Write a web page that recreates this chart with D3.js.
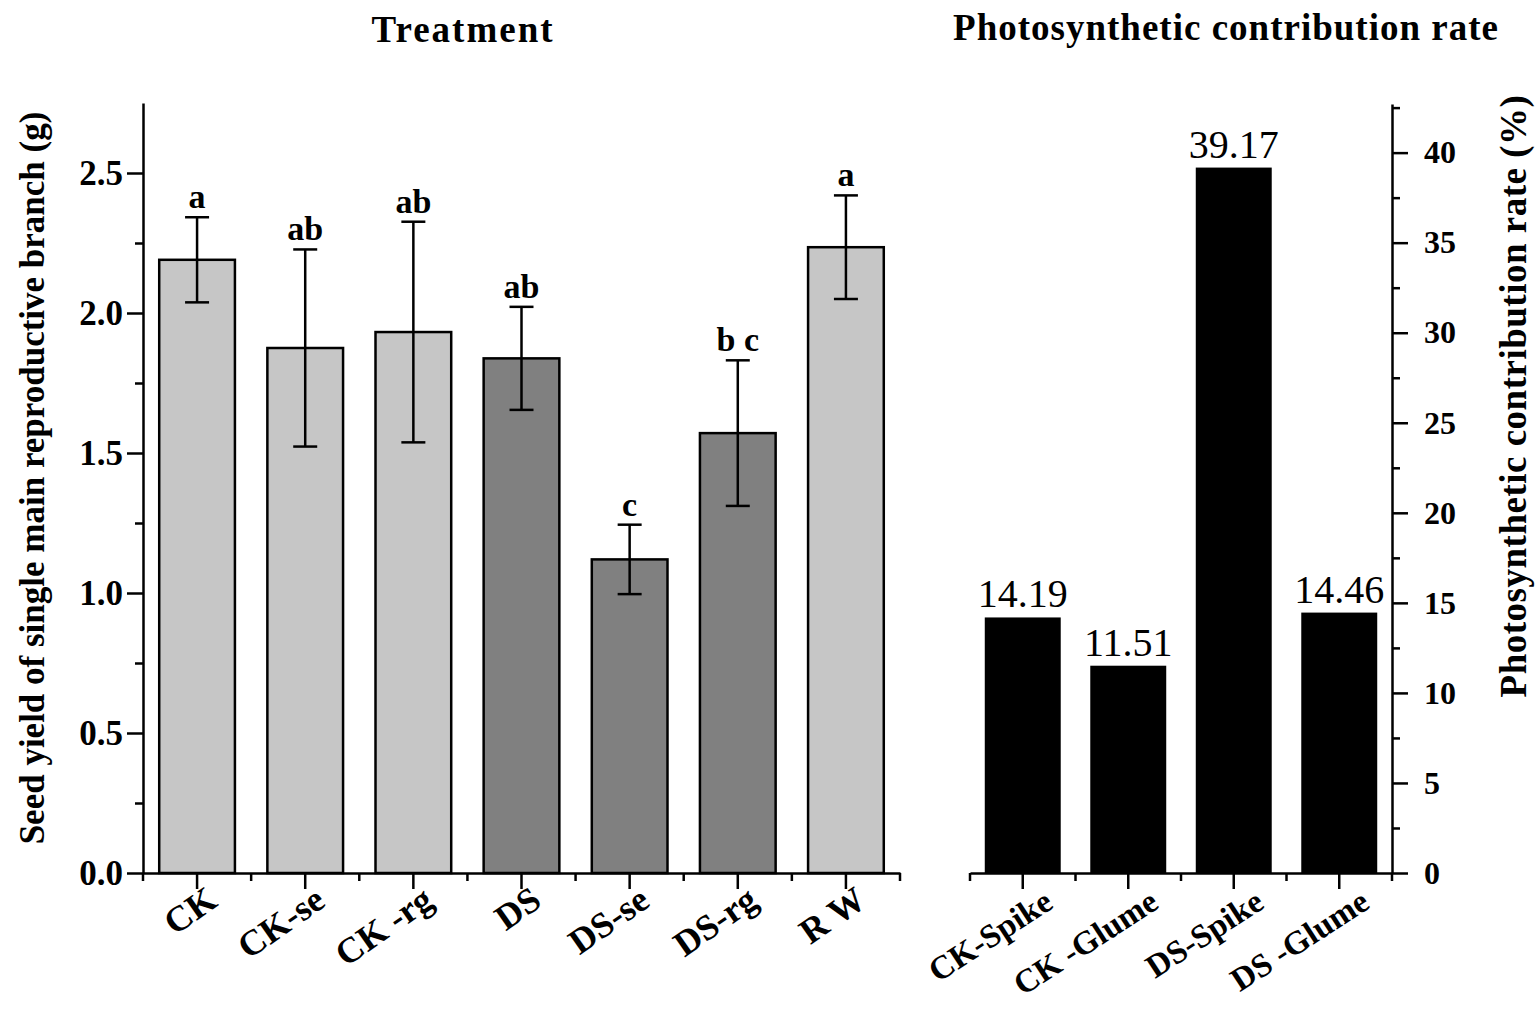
<!DOCTYPE html>
<html>
<head>
<meta charset="utf-8">
<script src="https://cdn.jsdelivr.net/npm/d3@7"></script>
<style>
  body { margin: 0; background: #fff; }
  svg text { font-family: "Liberation Serif", "Times New Roman", serif; fill: #000; }
  .axis path, .axis line { stroke: #000; stroke-width: 2.5px; }
</style>
</head>
<body>
<div id="chart"></div>
<script>
// left panel: seed yield per treatment
const treatments = ["CK", "CK-se", "CK -rg", "DS", "DS-se", "DS-rg", "R W"];
const seedYield = [2.19, 1.875, 1.932, 1.838, 1.12, 1.571, 2.235];
const seedErr = [0.152, 0.352, 0.394, 0.184, 0.124, 0.26, 0.185];
const sigLetters = ["a", "ab", "ab", "ab", "c", "b c", "a"];
const groups = ["CK", "CK", "CK", "DS", "DS", "DS", "RW"];
const yieldTicks = [0, 0.5, 1.0, 1.5, 2.0, 2.5];

// right panel: photosynthetic contribution rate
const organs = ["CK-Spike", "CK -Glume", "DS-Spike", "DS -Glume"];
const contribution = [14.19, 11.51, 39.17, 14.46];
const rateTicks = [0, 5, 10, 15, 20, 25, 30, 35, 40];

const width = 1535, height = 1027;
const base = 873;

const svg = d3.select("#chart")
    .append("svg")
    .attr("width", width)
    .attr("height", height);

const fill = d3.scaleOrdinal()
    .domain(["CK", "DS", "RW"])
    .range(["#c6c6c6", "#808080", "#c6c6c6"]);

// ---------- left chart ----------
const xL = d3.scaleBand()
    .domain(treatments)
    .range([143, 900])
    .paddingInner(0.3)
    .paddingOuter(0.15);

const yL = d3.scaleLinear()
    .domain([0, 2.75])
    .range([base, 103]);

const left = svg.append("g");

left.selectAll("rect.bar")
    .data(treatments)
    .join("rect")
    .classed("bar", true)
    .attr("x", d => xL(d))
    .attr("y", (d, i) => yL(seedYield[i]))
    .attr("width", xL.bandwidth())
    .attr("height", (d, i) => base - yL(seedYield[i]))
    .attr("fill", (d, i) => fill(groups[i]))
    .attr("stroke", "#000")
    .attr("stroke-width", 2.5);

// error bars
const cx = d => xL(d) + xL.bandwidth() / 2;
const err = left.selectAll("g.err")
    .data(treatments)
    .join("g")
    .classed("err", true);
err.append("line")
    .attr("x1", cx)
    .attr("x2", cx)
    .attr("y1", (d, i) => yL(seedYield[i] + seedErr[i]))
    .attr("y2", (d, i) => yL(seedYield[i] - seedErr[i]));
err.append("line")
    .attr("x1", d => cx(d) - 12)
    .attr("x2", d => cx(d) + 12)
    .attr("y1", (d, i) => yL(seedYield[i] + seedErr[i]))
    .attr("y2", (d, i) => yL(seedYield[i] + seedErr[i]));
err.append("line")
    .attr("x1", d => cx(d) - 12)
    .attr("x2", d => cx(d) + 12)
    .attr("y1", (d, i) => yL(seedYield[i] - seedErr[i]))
    .attr("y2", (d, i) => yL(seedYield[i] - seedErr[i]));
err.selectAll("line")
    .attr("stroke", "#000")
    .attr("stroke-width", 2.5);

left.selectAll("text.sig")
    .data(treatments)
    .join("text")
    .classed("sig", true)
    .attr("x", cx)
    .attr("y", (d, i) => yL(seedYield[i] + seedErr[i]) - 9)
    .attr("text-anchor", "middle")
    .style("font-size", "34px")
    .style("font-weight", "bold")
    .text((d, i) => sigLetters[i]);

// y axis with minor ticks
left.append("g")
    .classed("axis", true)
    .attr("transform", "translate(143,0)")
    .call(d3.axisLeft(yL).tickValues(d3.range(0.25, 2.75, 0.5)).tickSize(8).tickFormat(""))
    .call(g => g.select(".domain").remove());
left.append("g")
    .classed("axis", true)
    .attr("transform", "translate(143,0)")
    .call(d3.axisLeft(yL).tickValues(yieldTicks).tickSize(16).tickPadding(4).tickFormat(d3.format(".1f")).tickSizeOuter(0))
    .call(g => g.selectAll("text").style("font-size", "35px").style("font-weight", "bold"));

// x axis, major ticks at bars, minor ticks between them
left.append("g")
    .classed("axis", true)
    .attr("transform", "translate(0," + base + ")")
    .call(d3.axisBottom(xL).tickSize(16).tickSizeOuter(0).tickFormat(""));
left.append("g")
    .selectAll("line")
    .data(d3.range(treatments.length + 1))
    .join("line")
    .attr("x1", i => i === 0 ? 143 : xL(treatments[i - 1]) + xL.bandwidth() + xL.step() * 0.15)
    .attr("x2", i => i === 0 ? 143 : xL(treatments[i - 1]) + xL.bandwidth() + xL.step() * 0.15)
    .attr("y1", base)
    .attr("y2", base + 8)
    .attr("stroke", "#000")
    .attr("stroke-width", 2.5);

left.selectAll("text.cat")
    .data(treatments)
    .join("text")
    .classed("cat", true)
    .attr("text-anchor", "end")
    .attr("transform", d => "translate(" + (cx(d) + 22) + "," + (base + 32) + ") rotate(-35)")
    .style("font-size", "36px")
    .style("font-weight", "bold")
    .text(d => d);

left.append("text")
    .attr("transform", "rotate(-90)")
    .attr("x", -(base + 103) / 2 + 10)
    .attr("y", 44)
    .attr("text-anchor", "middle")
    .style("font-size", "35px")
    .style("font-weight", "bold")
    .text("Seed yield of single main reproductive branch (g)");

left.append("text")
    .attr("x", 463)
    .attr("y", 42)
    .attr("text-anchor", "middle")
    .style("font-size", "37px")
    .style("font-weight", "bold")
    .style("letter-spacing", "2px")
    .text("Treatment");

// ---------- right chart ----------
const xR = d3.scaleBand()
    .domain(organs)
    .range([970, 1392])
    .paddingInner(0.28)
    .paddingOuter(0.14);

const yR = d3.scaleLinear()
    .domain([0, 42.7])
    .range([base, 104]);

const right = svg.append("g");

right.selectAll("rect.bar")
    .data(organs)
    .join("rect")
    .classed("bar", true)
    .attr("x", d => xR(d))
    .attr("y", (d, i) => yR(contribution[i]))
    .attr("width", xR.bandwidth())
    .attr("height", (d, i) => base - yR(contribution[i]))
    .attr("fill", "#000");

right.selectAll("text.val")
    .data(organs)
    .join("text")
    .classed("val", true)
    .attr("x", d => xR(d) + xR.bandwidth() / 2)
    .attr("y", (d, i) => yR(contribution[i]) - 10)
    .attr("text-anchor", "middle")
    .style("font-size", "40px")
    .text((d, i) => contribution[i].toFixed(2));

right.append("g")
    .classed("axis", true)
    .attr("transform", "translate(1392,0)")
    .call(d3.axisRight(yR).tickValues(d3.range(2.5, 42.7, 5)).tickSize(8).tickFormat(""))
    .call(g => g.select(".domain").remove());
right.append("g")
    .classed("axis", true)
    .attr("transform", "translate(1392,0)")
    .call(d3.axisRight(yR).tickValues(rateTicks).tickSize(16).tickPadding(16).tickSizeOuter(0))
    .call(g => g.selectAll("text").style("font-size", "32px").style("font-weight", "bold"));

right.append("g")
    .classed("axis", true)
    .attr("transform", "translate(0," + base + ")")
    .call(d3.axisBottom(xR).tickSize(16).tickSizeOuter(0).tickFormat(""));
right.append("g")
    .selectAll("line")
    .data(d3.range(organs.length + 1))
    .join("line")
    .attr("x1", i => i === 0 ? 970 : xR(organs[i - 1]) + xR.bandwidth() + xR.step() * 0.14)
    .attr("x2", i => i === 0 ? 970 : xR(organs[i - 1]) + xR.bandwidth() + xR.step() * 0.14)
    .attr("y1", base)
    .attr("y2", base + 8)
    .attr("stroke", "#000")
    .attr("stroke-width", 2.5);

right.selectAll("text.cat")
    .data(organs)
    .join("text")
    .classed("cat", true)
    .attr("text-anchor", "end")
    .attr("transform", d => "translate(" + (xR(d) + xR.bandwidth() / 2 + 32) + "," + (base + 34) + ") rotate(-33)")
    .style("font-size", "33px")
    .style("font-weight", "bold")
    .text(d => d);

right.append("text")
    .attr("transform", "rotate(-90)")
    .attr("x", -396)
    .attr("y", 1526)
    .attr("text-anchor", "middle")
    .style("font-size", "37px")
    .style("font-weight", "bold")
    .style("letter-spacing", "0.5px")
    .text("Photosynthetic contribution rate (%)");

right.append("text")
    .attr("x", 1226)
    .attr("y", 40)
    .attr("text-anchor", "middle")
    .style("font-size", "37px")
    .style("font-weight", "bold")
    .style("letter-spacing", "1px")
    .text("Photosynthetic contribution rate");
</script>
</body>
</html>
